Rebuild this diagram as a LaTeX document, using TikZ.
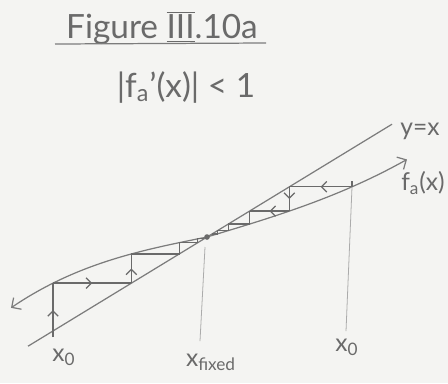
\documentclass[tikz,border=0pt]{standalone}
\usepackage{fontspec}
\setmainfont{Lato}
\usetikzlibrary{arrows.meta,decorations.markings}
\definecolor{paper}{HTML}{F4F4F2}
\definecolor{pencil}{HTML}{7C7C7C}
\definecolor{pencildark}{HTML}{6A6A6A}
\definecolor{pencillight}{HTML}{ABABAB}
\begin{document}
\begin{tikzpicture}[x=0.02cm,y=-0.02cm,
  declare function={g(\u)=(\u<0)*(0.2*\u+0.042*\u*\u*\u)+(\u>=0)*(0.3*\u+0.022*\u*\u*\u);},
  curve/.style={draw=pencil,line width=0.7pt},
  web/.style={draw=pencildark,line width=0.75pt},
  drop/.style={draw=pencillight,line width=0.45pt},
  midarr/.style={postaction={decorate},decoration={markings,mark=at position 0.5 with {\arrow{Straight Barb[length=3pt,width=6pt,line width=0.7pt]}}}},
  lbl/.style={text=pencildark,inner sep=0pt,font=\fontsize{14}{16}\selectfont}]
\fill[paper] (0,0) rectangle (448,383);
\useasboundingbox (0,0) rectangle (448,383);

% title and condition
\node[lbl,font=\fontsize{19}{22}\selectfont] (title) at (162,28) {Figure $\underline{\overline{\hbox{III}}}$.10a};
\draw[curve] (55,44) -- (266,43);
\node[lbl,font=\fontsize{19}{22}\selectfont] (cond) at (186,87) {|f\textsubscript{a}'(x)| < 1};

% y = x line and f_a curve
\draw[curve] (28,346.2) -- (392,124.2);
\draw[curve,{Straight Barb[length=4pt,width=8pt,line width=0.7pt]}-{Straight Barb[length=4pt,width=8pt,line width=0.7pt]}]
  plot[domain=-1.96:2.0,samples=70,smooth] ({207+100*\x},{237-100*g(\x)});

% fixed point
\node[circle,fill=pencildark,inner sep=0pt,minimum size=3.2pt] (fp) at (207,237) {};

% left cobweb
\coordinate (a0) at (53,337);
\coordinate (a1) at (53,283.1);
\coordinate (a2) at (131.4,283.1);
\coordinate (a3) at (131.4,253.9);
\coordinate (a4) at (179.3,253.9);
\coordinate (a5) at (179.3,242.6);
\coordinate (a6) at (197.8,242.6);
\coordinate (a7) at (197.8,238.8);
\coordinate (a8) at (204,238.8);
\draw[web,midarr] (a0) -- (a1);
\draw[web,midarr] (a1) -- (a2);
\draw[web,midarr] (a2) -- (a3);
\draw[web] (a3) -- (a4) -- (a5) -- (a6) -- (a7) -- (a8);

% right cobweb
\coordinate (b0) at (352,181);
\coordinate (b1) at (352,186.8);
\coordinate (b2) at (289.3,186.8);
\coordinate (b3) at (289.3,211.1);
\coordinate (b4) at (249.5,211.1);
\coordinate (b5) at (249.5,224.1);
\coordinate (b6) at (228.2,224.1);
\coordinate (b7) at (228.2,230.6);
\coordinate (b8) at (217.4,230.6);
\coordinate (b9) at (217.4,233.9);
\coordinate (b10) at (212,233.9);
\draw[web] (b0) -- (b1);
\draw[web,midarr] (b1) -- (b2);
\draw[web,midarr] (b2) -- (b3);
\draw[web,midarr] (b3) -- (b4);
\draw[web] (b4) -- (b5) -- (b6) -- (b7) -- (b8) -- (b9) -- (b10);

% labels
\node[lbl] (yx) at (420,131) {y=x};
\node[lbl] (fa) at (423,183) {f\textsubscript{a}(x)};
\node[lbl] (x0l) at (64,357) {x\textsubscript{0}};
\node[lbl] (xfix) at (211,362) {x\textsubscript{fixed}};
\node[lbl] (x0r) at (347,347) {x\textsubscript{0}};

% drop lines
\coordinate (fpdrop) at (205,247);
\coordinate (fpfoot) at (200,341);
\coordinate (rfoot) at (346,331);
\draw[drop] (fpdrop) -- (fpfoot);
\draw[drop] (b1) -- (rfoot);
\end{tikzpicture}
\end{document}
